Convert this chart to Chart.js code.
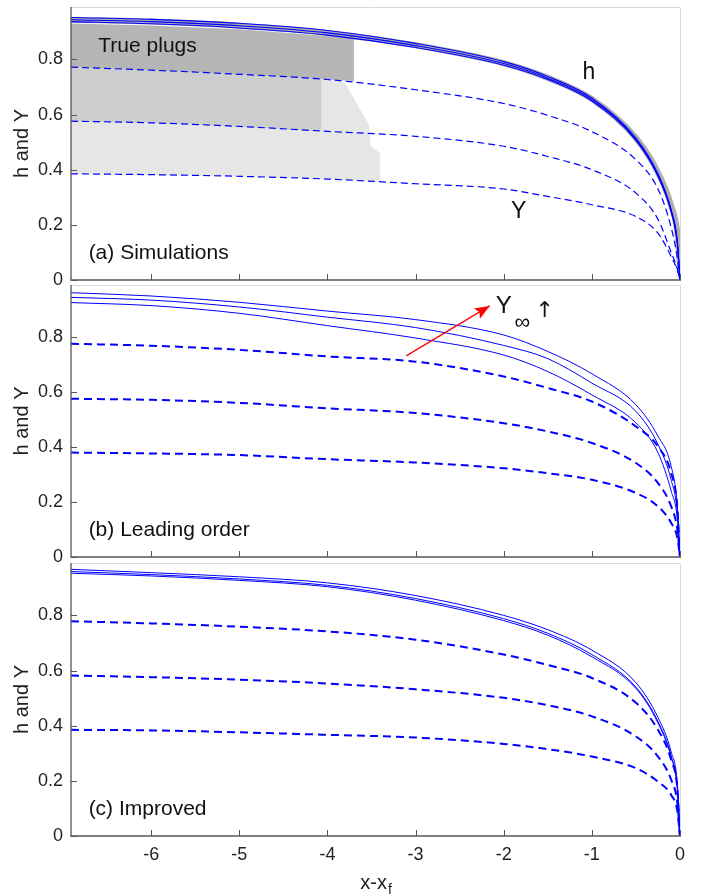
<!DOCTYPE html>
<html>
<head>
<meta charset="utf-8">
<script src="https://cdn.jsdelivr.net/npm/chart.js@4.4.1/dist/chart.umd.min.js"></script>
<style>
  html, body { margin: 0; padding: 0; background: #fff; }
  #wrap { position: relative; width: 703px; height: 895px; overflow: hidden; }
  canvas { position: absolute; left: 0; }
</style>
</head>
<body>
<div id="wrap">
  <canvas id="cA" width="703" height="300" style="top:0px"></canvas>
  <canvas id="cB" width="703" height="300" style="top:275px"></canvas>
  <canvas id="cC" width="703" height="342" style="top:553px"></canvas>
</div>
<script>
// shared x samples (x - x_f)
const xs = [-6.91, -6, -5, -4, -3, -2, -1.5, -1, -0.5, -0.25, -0.1, -0.03, 0];
const xTicks = [-6, -5, -4, -3, -2, -1, 0];
const yTicks = [0, 0.2, 0.4, 0.6, 0.8];

// (a) simulations
const hSim = [0.944, 0.937, 0.922, 0.896, 0.851, 0.786, 0.733, 0.656, 0.515, 0.39, 0.27, 0.17, 0.04];
const hA1 = [0.952, 0.945, 0.931, 0.905, 0.858, 0.792, 0.738, 0.660, 0.515, 0.385, 0.255, 0.14, 0];
const hA2 = [0.944, 0.937, 0.922, 0.896, 0.850, 0.785, 0.732, 0.654, 0.510, 0.380, 0.250, 0.135, 0];
const hA3 = [0.937, 0.929, 0.914, 0.888, 0.843, 0.779, 0.727, 0.649, 0.506, 0.376, 0.246, 0.132, 0];
const YA1 = [0.772, 0.761, 0.746, 0.727, 0.690, 0.640, 0.597, 0.538, 0.436, 0.330, 0.190, 0.08, 0];
const YA2 = [0.576, 0.570, 0.557, 0.539, 0.521, 0.485, 0.448, 0.400, 0.315, 0.220, 0.100, 0.04, 0];
const YA3 = [0.385, 0.382, 0.376, 0.366, 0.349, 0.330, 0.303, 0.273, 0.230, 0.170, 0.085, 0.035, 0];

// plug regions in (a)
const plugX = [-6.91, -6, -5, -4, -3.7];
const plugTop = [0.930, 0.923, 0.909, 0.885, 0.878];
const plugBot = [0.772, 0.761, 0.746, 0.727, 0.722];
const midX = [-6.91, -6, -5, -4.07];
const midTop = [0.772, 0.761, 0.746, 0.728];
const midBot = [0.576, 0.570, 0.557, 0.540];
const lightX = [-6.91, -6, -5, -4, -3.8, -3.53, -3.51, -3.4];
const lightTop = [0.772, 0.761, 0.746, 0.727, 0.715, 0.562, 0.485, 0.46];
const lightBot = [0.385, 0.382, 0.376, 0.366, 0.363, 0.360, 0.360, 0.358];

// (b) leading order
const hB1 = [0.962, 0.950, 0.927, 0.895, 0.864, 0.808, 0.748, 0.667, 0.554, 0.440, 0.330, 0.184, 0];
const hB2 = [0.945, 0.935, 0.910, 0.873, 0.835, 0.770, 0.722, 0.633, 0.530, 0.410, 0.280, 0.160, 0];
const hB3 = [0.926, 0.915, 0.887, 0.842, 0.797, 0.735, 0.675, 0.590, 0.488, 0.380, 0.240, 0.140, 0];
const YB1 = [0.776, 0.769, 0.754, 0.730, 0.711, 0.657, 0.615, 0.566, 0.475, 0.402, 0.305, 0.180, 0];
const YB2 = [0.576, 0.572, 0.561, 0.541, 0.524, 0.487, 0.457, 0.415, 0.342, 0.269, 0.184, 0.100, 0];
const YB3 = [0.380, 0.377, 0.371, 0.356, 0.344, 0.323, 0.305, 0.281, 0.233, 0.184, 0.124, 0.070, 0];
const arrowX = [-3.106, -2.159];
const arrowY = [0.732, 0.914];

// (c) improved
const hC1 = [0.967, 0.955, 0.940, 0.918, 0.872, 0.800, 0.748, 0.674, 0.556, 0.430, 0.305, 0.190, 0];
const hC2 = [0.959, 0.948, 0.932, 0.909, 0.861, 0.788, 0.735, 0.658, 0.540, 0.415, 0.290, 0.175, 0];
const hC3 = [0.953, 0.943, 0.927, 0.904, 0.855, 0.781, 0.728, 0.650, 0.535, 0.410, 0.285, 0.170, 0];
const YC1 = [0.779, 0.771, 0.759, 0.742, 0.712, 0.658, 0.620, 0.573, 0.483, 0.385, 0.276, 0.170, 0];
const YC2 = [0.582, 0.576, 0.567, 0.553, 0.532, 0.501, 0.474, 0.434, 0.361, 0.288, 0.204, 0.120, 0];
const YC3 = [0.385, 0.383, 0.376, 0.367, 0.357, 0.334, 0.315, 0.288, 0.246, 0.197, 0.149, 0.090, 0];

const FONT = '"Liberation Sans", Arial, Helvetica, sans-serif';
const BLUE = '#0000ff';
const AXIS = '#555555';
const TEXT = '#222222';

const pts = (xa, ya) => xa.map((x, i) => ({x: x, y: ya[i]}));

function solid(ya, w) {
  return {data: pts(xs, ya), borderColor: BLUE, borderWidth: w || 1, pointRadius: 0,
    cubicInterpolationMode: 'monotone', fill: false, order: 1};
}
function dashed(ya, w, dash) {
  return {data: pts(xs, ya), borderColor: BLUE, borderWidth: w, borderDash: dash, pointRadius: 0,
    cubicInterpolationMode: 'monotone', fill: false, order: 2};
}
function region(xa, top, bot, color, order) {
  return [
    {data: pts(xa, top), borderColor: 'rgba(0,0,0,0)', borderWidth: 0, pointRadius: 0,
      backgroundColor: color, fill: '+1', tension: 0, order: order},
    {data: pts(xa, bot), borderColor: 'rgba(0,0,0,0)', borderWidth: 0, pointRadius: 0,
      fill: false, tension: 0, order: order}
  ];
}

function framePlugin(notes, withXTitle) {
  return {
    id: 'frame',
    afterDatasetsDraw(chart) {
      const {ctx, chartArea: a, scales} = chart;
      const x = scales.x, y = scales.y;
      ctx.save();
      // light box on top and right
      ctx.strokeStyle = '#d9d9d9';
      ctx.lineWidth = 1;
      ctx.beginPath();
      ctx.moveTo(a.left, a.top + 0.5);
      ctx.lineTo(a.right + 0.5, a.top + 0.5);
      ctx.lineTo(a.right + 0.5, a.bottom);
      ctx.stroke();
      // inward tick marks
      ctx.strokeStyle = AXIS;
      ctx.beginPath();
      xTicks.forEach(v => {
        const px = Math.round(x.getPixelForValue(v)) + 0.5;
        ctx.moveTo(px, a.bottom);
        ctx.lineTo(px, a.bottom - 6);
      });
      yTicks.forEach(v => {
        const py = Math.round(y.getPixelForValue(v)) + 0.5;
        ctx.moveTo(a.left, py);
        ctx.lineTo(a.left + 6, py);
      });
      ctx.stroke();
      // main axes
      ctx.lineWidth = 1.3;
      ctx.beginPath();
      ctx.moveTo(a.left, a.top);
      ctx.lineTo(a.left, a.bottom);
      ctx.lineTo(a.right + 1, a.bottom);
      ctx.stroke();
      // text notes
      ctx.fillStyle = '#111';
      ctx.textBaseline = 'middle';
      notes.forEach(n => {
        ctx.font = n.size + 'px ' + (n.family || FONT);
        ctx.textAlign = n.align || 'left';
        ctx.fillText(n.text, x.getPixelForValue(n.x), y.getPixelForValue(n.y));
      });
      // arrow head on red arrow
      chart.data.datasets.forEach((ds, i) => {
        if (!ds.arrow) return;
        const p = chart.getDatasetMeta(i).data;
        const p0 = p[0], p1 = p[p.length - 1];
        const ang = Math.atan2(p1.y - p0.y, p1.x - p0.x);
        const L = 15, W = 6;
        ctx.fillStyle = ds.borderColor;
        ctx.beginPath();
        ctx.moveTo(p1.x, p1.y);
        ctx.lineTo(p1.x - L * Math.cos(ang) + W * Math.sin(ang), p1.y - L * Math.sin(ang) - W * Math.cos(ang));
        ctx.lineTo(p1.x - L * 0.8 * Math.cos(ang), p1.y - L * 0.8 * Math.sin(ang));
        ctx.lineTo(p1.x - L * Math.cos(ang) - W * Math.sin(ang), p1.y - L * Math.sin(ang) + W * Math.cos(ang));
        ctx.closePath();
        ctx.fill();
      });
      // x axis title with subscript
      if (withXTitle) {
        const cx = (a.left + a.right) / 2;
        const ty = a.bottom + 47;
        ctx.fillStyle = TEXT;
        ctx.textAlign = 'left';
        ctx.font = '20px ' + FONT;
        const main = 'x-x';
        const w = ctx.measureText(main).width;
        ctx.font = '14px ' + FONT;
        const ws = ctx.measureText('f').width;
        const sx = cx - (w + ws) / 2;
        ctx.font = '20px ' + FONT;
        ctx.fillText(main, sx, ty);
        ctx.font = '14px ' + FONT;
        ctx.fillText('f', sx + w + 1, ty + 7);
      }
      ctx.restore();
    }
  };
}

function makePanel(id, datasets, notes, opt) {
  return new Chart(document.getElementById(id), {
    type: 'line',
    data: {datasets: datasets},
    options: {
      responsive: false,
      animation: false,
      events: [],
      layout: {padding: {left: 0, right: 23, top: opt.top, bottom: 0}},
      plugins: {legend: {display: false}, tooltip: {enabled: false}},
      scales: {
        x: {
          type: 'linear', min: -6.91, max: 0,
          afterBuildTicks: s => { s.ticks = xTicks.map(v => ({value: v})); },
          afterFit: s => { s.height = opt.xh; s.paddingLeft = 0; s.paddingRight = 0; },
          grid: {display: false, drawTicks: false},
          border: {display: false},
          ticks: {display: opt.xLabels, padding: 8, color: TEXT, font: {family: FONT, size: 18},
            maxRotation: 0, autoSkip: false, callback: v => String(v)}
        },
        y: {
          type: 'linear', min: 0, max: 0.99,
          afterBuildTicks: s => { s.ticks = yTicks.map(v => ({value: v})); },
          afterFit: s => { s.width = 71; s.paddingTop = 0; s.paddingBottom = 0; },
          grid: {display: false, drawTicks: false},
          border: {display: false},
          ticks: {padding: 8, color: TEXT, font: {family: FONT, size: 18}, callback: v => String(v)},
          title: {display: true, text: 'h and Y', color: TEXT, font: {family: FONT, size: 20},
            padding: {top: 10, bottom: 0}}
        }
      }
    },
    plugins: [framePlugin(notes, opt.xTitle)]
  });
}

// panel (a)
const dsA = [].concat(
  region(lightX, lightTop, lightBot, '#e6e6e6', 30),
  region(midX, midTop, midBot, '#cdcdcd', 20),
  region(plugX, plugTop, plugBot, '#b5b5b5', 10),
  [{data: pts(xs, hSim), borderColor: 'rgba(160,160,160,0.85)', borderWidth: 6, pointRadius: 0,
    cubicInterpolationMode: 'monotone', fill: false, order: 5}],
  [dashed(YA1, 1.2, [7, 4]), dashed(YA2, 1.2, [7, 4]), dashed(YA3, 1.2, [7, 4])],
  [solid(hA1, 1.1), solid(hA2, 1.1), solid(hA3, 1.1)]
);
makePanel('cA', dsA, [
  {x: -6.60, y: 0.848, text: 'True plugs', size: 21},
  {x: -1.034, y: 0.752, text: 'h', size: 23, align: 'center'},
  {x: -1.83, y: 0.248, text: 'Y', size: 23, align: 'center'},
  {x: -6.71, y: 0.098, text: '(a) Simulations', size: 21}
], {top: 7, xh: 20, xLabels: false, xTitle: false});

// panel (b)
const dsB = [
  dashed(YB1, 2, [8, 5]), dashed(YB2, 2, [8, 5]), dashed(YB3, 2, [8, 5]),
  solid(hB1, 1), solid(hB2, 1), solid(hB3, 1),
  {data: pts(arrowX, arrowY), borderColor: '#ff0000', borderWidth: 1.2, pointRadius: 0,
    fill: false, order: 0, arrow: true}
];
makePanel('cB', dsB, [
  {x: -6.71, y: 0.096, text: '(b) Leading order', size: 21},
  {x: -2.0, y: 0.911, text: 'Y', size: 24, align: 'center'},
  {x: -1.79, y: 0.852, text: '\u221E', size: 22, align: 'center'},
  {x: -1.534, y: 0.896, text: '\u2191', size: 22, align: 'center', family: '"DejaVu Sans", sans-serif'}
], {top: 10, xh: 18, xLabels: false, xTitle: false});

// panel (c)
const dsC = [
  dashed(YC1, 2, [8, 5]), dashed(YC2, 2, [8, 5]), dashed(YC3, 2, [8, 5]),
  solid(hC1, 1), solid(hC2, 1), solid(hC3, 1)
];
makePanel('cC', dsC, [
  {x: -6.71, y: 0.096, text: '(c) Improved', size: 21}
], {top: 10, xh: 59, xLabels: true, xTitle: true});
</script>
</body>
</html>
